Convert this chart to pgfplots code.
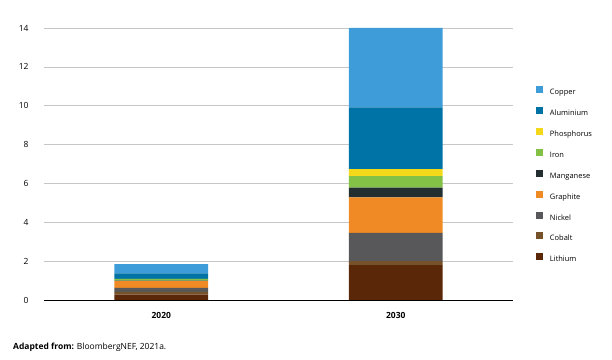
\documentclass[border=0pt]{standalone}
\usepackage{fontspec}
\setmainfont{Open Sans}
\usepackage{pgfplots}
\pgfplotsset{compat=1.18}
\definecolor{cLi}{RGB}{90,40,8}
\definecolor{cCo}{RGB}{118,82,42}
\definecolor{cNi}{RGB}{88,88,90}
\definecolor{cGr}{RGB}{240,138,36}
\definecolor{cMn}{RGB}{35,46,48}
\definecolor{cFe}{RGB}{130,192,70}
\definecolor{cP}{RGB}{244,216,26}
\definecolor{cAl}{RGB}{0,115,166}
\definecolor{cCu}{RGB}{62,157,216}
\begin{document}
\begin{tikzpicture}
\path (0,0) rectangle (612bp,360bp);
\begin{axis}[
  at={(44bp,60bp)}, anchor=south west,
  scale only axis, width=469bp, height=272bp,
  ybar stacked, bar width=0.4,
  xmin=-0.5, xmax=1.5, ymin=0, ymax=14,
  xtick={0,1}, xticklabels={2020,2030},
  ytick={0,2,...,14},
  major tick length=0pt,
  axis x line*=bottom, axis y line*=left,
  y axis line style={draw=none},
  x axis line style={draw=black, line width=1pt, -},
  ymajorgrids, grid style={gray!45, line width=0.6pt},
  tick label style={font=\fontsize{8.5}{10}\selectfont},
  /pgf/number format/assume math mode=true,
  yticklabel style={anchor=east, xshift=-12bp},
  xticklabel style={font=\fontsize{8.5}{10}\selectfont\bfseries, yshift=-9bp},
  reverse legend,
  legend cell align=left,
  legend style={at={(rel axis cs:1.049,0.785)}, anchor=north west, draw=none, fill=none,
    inner sep=0pt, outer sep=0pt, row sep=11.4bp,
    font=\fontsize{7.5}{8}\selectfont,
    nodes={inner sep=0pt, text height=5.5bp, text depth=1bp},
    /tikz/every odd column/.append style={column sep=7bp}},
  legend image code/.code={\fill[#1] (0bp,-0.8bp) rectangle (7bp,6.2bp);},
  every axis plot/.append style={draw=none},
]
\addplot[fill=cLi] coordinates {(0,0.28) (1,1.79)};
\addplot[fill=cCo] coordinates {(0,0.14) (1,0.21)};
\addplot[fill=cNi] coordinates {(0,0.20) (1,1.45)};
\addplot[fill=cGr] coordinates {(0,0.35) (1,1.83)};
\addplot[fill=cMn] coordinates {(0,0.03) (1,0.51)};
\addplot[fill=cFe] coordinates {(0,0.07) (1,0.58)};
\addplot[fill=cP] coordinates {(0,0.02) (1,0.36)};
\addplot[fill=cAl] coordinates {(0,0.28) (1,3.18)};
\addplot[fill=cCu] coordinates {(0,0.48) (1,4.09)};
\legend{Lithium,Cobalt,Nickel,Graphite,Manganese,Iron,Phosphorus,Aluminium,Copper}
\end{axis}
\node[anchor=west, inner sep=0pt, font=\fontsize{8.5}{10}\selectfont] at (13bp,13bp) {\textbf{Adapted from:} BloombergNEF, 2021a.};
\end{tikzpicture}
\end{document}
